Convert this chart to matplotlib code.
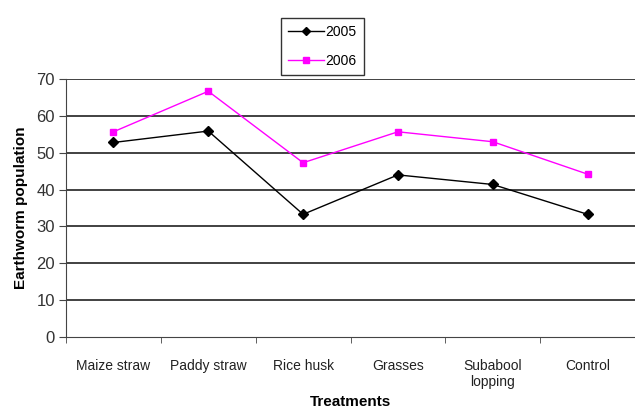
import numpy as np
from matplotlib import pyplot as plt

treatments = ["Maize straw", "Paddy straw", "Rice husk", "Grasses", "Subabool\nlopping", "Control"]
pop2005 = [52.8, 55.9, 33.3, 44.0, 41.4, 33.3]
pop2006 = [55.7, 66.7, 47.3, 55.7, 53.0, 44.2]
yticks = [0, 10, 20, 30, 40, 50, 60, 70]

plt.rcParams["font.family"] = ["Liberation Sans", "DejaVu Sans"]

fig = plt.figure(figsize=(6.35, 4.12), dpi=100)
ax = fig.add_axes([0.104, 0.182, 0.896, 0.626])

x = np.arange(len(treatments))
ax.plot(x, pop2005, color="black", marker="D", markersize=5, lw=1, label="2005")
ax.plot(x, pop2006, color="#ff00ff", marker="s", markersize=5, lw=1, label="2006")

ax.set_xlim(-0.5, len(treatments) - 0.5)
ax.set_ylim(0, 70)
ax.set_yticks(yticks)
ax.set_yticklabels([str(v) for v in yticks], fontsize=12, color="#333333")
ax.set_xticks(x)
ax.set_xticklabels(treatments, fontsize=10, color="#222222")
ax.set_xticks(np.arange(len(treatments) + 1) - 0.5, minor=True)
ax.tick_params(axis="x", which="major", length=0, pad=16)
ax.tick_params(axis="x", which="minor", length=4, color="#444444")
ax.tick_params(axis="y", length=5, color="#444444", pad=3)

for v in yticks[1:]:
    ax.axhline(v, color="#333333", lw=1.3, zorder=0)

for s in ["top", "right"]:
    ax.spines[s].set_visible(False)
ax.spines["left"].set_color("#444444")
ax.spines["bottom"].set_color("#444444")

ax.set_ylabel("Earthworm population", fontsize=11, fontweight="bold", labelpad=6)
ax.set_xlabel("Treatments", fontsize=11, fontweight="bold", labelpad=4)

leg = ax.legend(loc="lower left", bbox_to_anchor=(0.378, 1.015), fontsize=10,
                frameon=True, fancybox=False, edgecolor="black", markerscale=0.9,
                handlelength=2.6, borderpad=0.5, labelspacing=1.1, handletextpad=0.1,
                borderaxespad=0)
leg.get_frame().set_linewidth(1)

fig.savefig("out.png", dpi=100)
